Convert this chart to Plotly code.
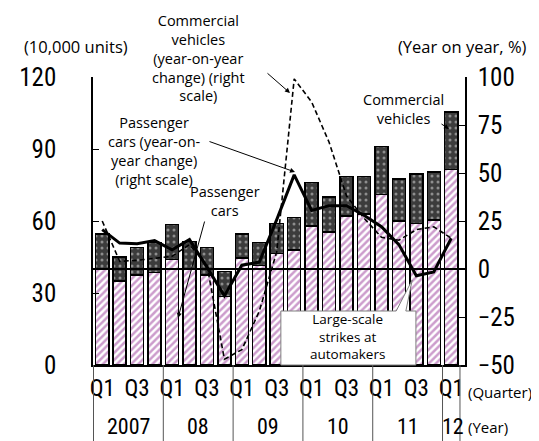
import plotly.graph_objects as go

quarters = ["2007Q1","2007Q2","2007Q3","2007Q4","2008Q1","2008Q2","2008Q3","2008Q4",
            "2009Q1","2009Q2","2009Q3","2009Q4","2010Q1","2010Q2","2010Q3","2010Q4",
            "2011Q1","2011Q2","2011Q3","2011Q4","2012Q1"]
passenger_cars = [40, 35, 37.5, 38.5, 44, 40, 37.5, 28.5, 44.5, 41.5, 46.5, 48,
                  58, 55.5, 62, 63, 71, 60, 59, 60.5, 81.5]
commercial_vehicles = [14.5, 10, 11.5, 12.5, 14.5, 11.5, 11.5, 10.5, 10, 9.5, 12.5, 13.5,
                       18, 14.5, 16.5, 15.5, 20, 17.5, 20.5, 20, 24]
passenger_yoy = [20.5, 13.5, 13.2, 14.8, 10, 15.3, 1, -14, 2, 3.6, 25.7, 49,
                 30.5, 33, 33, 28, 22, 12.7, -3.5, -1.5, 16]
commercial_yoy = [25, 4, 4.5, 5.7, 6.6, 12.7, 2, -47, -42, -22, 9, 99,
                  87, 66, 38, 26.5, 16.5, 15, 20.5, 22, 16]
quarter_tick_vals = quarters[::2]
quarter_tick_text = ["Q1", "Q3"] * 10 + ["Q1"]
year_labels = ["2007", "08", "09", "10", "11", "12"]
year_label_pos = [1.5, 5.5, 9.5, 13.5, 17.5, 20.1]
year_bounds = [-0.5, 3.5, 7.5, 11.5, 15.5, 19.5, 20.5]
left_ticks = [0, 30, 60, 90, 120]
right_ticks = [-50, -25, 0, 25, 50, 75, 100]

NARROW = "Roboto Condensed, DejaVu Sans Condensed, sans-serif"
TXT = "Open Sans, Noto Sans, sans-serif"

fig = go.Figure()
fig.add_trace(go.Bar(
    x=quarters, y=passenger_cars, name="Passenger cars",
    marker=dict(color="white", line=dict(color="black", width=1.5),
                pattern=dict(shape="/", fgcolor="#9a3a9a", bgcolor="white", size=5, solidity=0.5)),
))
fig.add_trace(go.Bar(
    x=quarters, y=commercial_vehicles, name="Commercial vehicles",
    marker=dict(color="#3c3c3c", line=dict(color="black", width=1.5),
                pattern=dict(shape=".", fgcolor="#e0e0e0", bgcolor="#3c3c3c", size=6, solidity=0.2)),
))
fig.add_trace(go.Scatter(
    x=quarters, y=commercial_yoy, yaxis="y2", mode="lines",
    line=dict(color="black", width=1.6, dash="5px,3px"),
))
fig.add_trace(go.Scatter(
    x=quarters, y=passenger_yoy, yaxis="y2", mode="lines",
    line=dict(color="black", width=3),
))

shapes = []
shapes.append(dict(type="line", xref="paper", x0=0, x1=1, yref="y2", y0=0, y1=0,
                   line=dict(color="black", width=2), layer="above"))
for b in year_bounds:
    shapes.append(dict(type="line", xref="x", x0=b, x1=b, yref="paper", y0=0, y1=-0.295,
                       line=dict(color="#555555", width=1)))
x0, x1, yt = 0.505, 0.868, 0.1875
shapes.append(dict(type="path", xref="paper", yref="paper",
                   path=f"M {x0},0 L {x0},{yt} L 0.815,{yt} L 0.858,0.295 L 0.841,{yt} L {x1},{yt} L {x1},0 Z",
                   fillcolor="white", line=dict(color="#808080", width=1), layer="above"))

annotations = []
def px(xp): return (xp - 85) / 372
def py(yp): return (357 - yp) / 288

def block(x, y, text, size=14.5, xanchor="center", font=TXT):
    annotations.append(dict(xref="paper", yref="paper", x=px(x), y=py(y), text=text, showarrow=False,
                            xanchor=xanchor, yanchor="middle", borderpad=0,
                            font=dict(family=font, size=size, color="black")))

block(68, 39, "(10,000 units)", size=16.5)
block(454, 39, "(Year on year, %)", size=16.5)
block(190, 50, "Commercial<br>vehicles<br>(year-on-year<br>change) (right<br>scale)")
block(395, 101, "Commercial<br>vehicles")
block(146, 143, "Passenger<br>cars (year-on-<br>year change)<br>(right scale)")
block(217, 193, "Passenger<br>cars")
block(339, 328, "Large-scale<br>strikes at<br>automakers", size=13.5)
block(459, 384, "(Quarter)", size=15, xanchor="left")
block(459, 419, "(Year)", size=15, xanchor="left")

for lab, pos in zip(year_labels, year_label_pos):
    annotations.append(dict(xref="x", yref="paper", x=pos, y=py(418), text=lab, showarrow=False,
                            xanchor="center", yanchor="middle", borderpad=0,
                            font=dict(family=NARROW, size=22, color="black")))

def arrow(xs, ys, xe, ye, head=2):
    annotations.append(dict(xref="paper", yref="paper", x=px(xe), y=py(ye),
                            ax=xs - xe, ay=ys - ye, axref="pixel", ayref="pixel",
                            text="", showarrow=True, standoff=0,
                            arrowhead=head, arrowsize=1, arrowwidth=1, arrowcolor="black"))

arrow(258, 64, 282, 85)
arrow(200, 133, 287, 164)
arrow(197, 212, 170, 310)
arrow(432, 115, 441, 121)

fig.update_layout(
    width=539, height=441, autosize=False,
    margin=dict(l=85, r=82, t=69, b=84),
    paper_bgcolor="white", plot_bgcolor="white",
    barmode="stack", bargap=0.25, showlegend=False,
    xaxis=dict(type="category", categoryorder="array", categoryarray=quarters,
               tickvals=quarter_tick_vals, ticktext=quarter_tick_text, ticks="",
               showline=True, linecolor="black", linewidth=1.5, showgrid=False,
               tickfont=dict(family=NARROW, size=23, color="black"), ticklabelstandoff=2),
    yaxis=dict(range=[0, 120], tickvals=left_ticks, ticks="inside", ticklen=6, tickcolor="black",
               showline=True, linecolor="black", linewidth=1.5, showgrid=False, zeroline=False,
               tickfont=dict(family=NARROW, size=25, color="black"), ticklabelstandoff=30),
    yaxis2=dict(range=[-50, 100], tickvals=right_ticks, overlaying="y", side="right",
                ticks="inside", ticklen=6, tickcolor="black",
                showline=True, linecolor="black", linewidth=1.5, showgrid=False, zeroline=False,
                tickfont=dict(family=NARROW, size=25, color="black"), ticklabelstandoff=6),
    shapes=shapes, annotations=annotations,
)
fig.write_html("out.html")
